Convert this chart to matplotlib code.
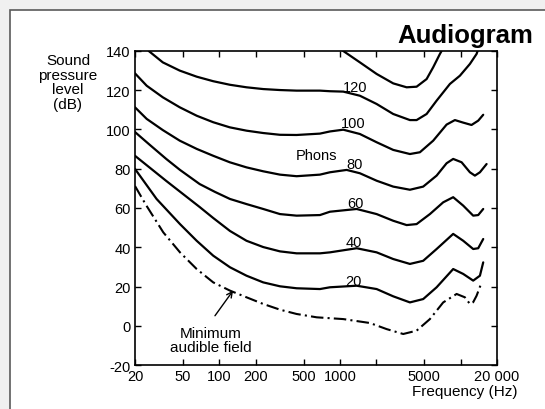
import matplotlib
matplotlib.use("Agg")
import matplotlib.pyplot as plt
from matplotlib.patches import Rectangle
from matplotlib.ticker import FixedLocator, FixedFormatter, NullLocator

plt.rcParams["font.family"] = ["Liberation Sans", "DejaVu Sans"]
plt.rcParams["axes.unicode_minus"] = False

# equal loudness contours (Hz, dB SPL)
p140_f = [1064, 1462, 2012, 2760, 3565, 4314, 5222, 5920, 6730, 6950]
p140_db = [140, 134.2, 128.3, 123.5, 121.5, 121.8, 125.7, 131.7, 138.5, 140]

p120_f = [26, 34, 47, 65, 89, 122, 168, 231, 318, 437, 682, 825, 1064, 1462,
          2012, 2760, 3797, 4314, 5222, 6320, 8144, 9856, 11930, 13550, 13810]
p120_db = [140, 134.2, 130, 126.9, 124.6, 122.8, 121.5, 120.6, 120.1, 119.8,
           119.8, 119.5, 119.3, 117.2, 113, 107.9, 104.8, 104.8, 107.9, 114.7,
           123.2, 127.4, 133.4, 138.5, 140]

p100_f = [20, 25, 34, 47, 65, 89, 122, 168, 231, 318, 437, 682, 825, 1064, 1462,
          2012, 2760, 3797, 4594, 5920, 7646, 8960, 10500, 12300, 13980, 15380]
p100_db = [128.6, 122.3, 116.4, 111.3, 107, 103.7, 101.1, 99.4, 98.2, 97.3, 97.2,
           97.9, 99, 99.9, 97.7, 93.5, 89.6, 87.5, 88.4, 94.3, 102.5, 104.8,
           103.5, 102.3, 104.5, 107.5]

p80_f = [20, 25, 34, 47, 65, 89, 122, 168, 231, 318, 437, 682, 825, 1135, 1462,
         2012, 2760, 3797, 4892, 6320, 7646, 8670, 10180, 11930, 13120, 14440, 16400]
p80_db = [111.3, 105.4, 99.7, 94.3, 90.1, 86.6, 83.3, 80.7, 78.7, 77, 76.2, 77,
          78.2, 79.4, 77.7, 73.9, 70.9, 69.3, 70.9, 76.5, 82.8, 85, 83.3, 78.2,
          76.5, 78.2, 82.4]

p60_f = [20, 26.6, 36.3, 47.2, 68.7, 92, 122.5, 168, 231, 318, 437, 682, 825,
         1374, 2012, 2760, 3565, 4314, 5560, 7168, 8670, 10500, 12700, 13980, 15380]
p60_db = [98.7, 92.1, 85, 79.4, 72.2, 68.2, 64.6, 62, 59.5, 56.9, 56.1, 56.4, 58.1,
          59.5, 56.9, 53.5, 51.3, 51.8, 56.9, 62.9, 65.5, 61.2, 56.1, 56.4, 59.5]

p40_f = [20, 36.3, 68.7, 89, 122.5, 168, 231, 318, 437, 682, 825, 1374, 2012,
         2760, 3797, 4892, 6320, 8670, 10500, 12700, 13980, 15380]
p40_db = [86.6, 73.8, 60.5, 54.9, 48.3, 43.3, 40.1, 37.9, 36.9, 36.9, 37.4, 39.5,
          37.4, 34, 31.5, 33.1, 39.1, 46.8, 43.3, 39.1, 39.5, 44.2]

p20_f = [20, 30.2, 47.2, 64.9, 89, 122.5, 168, 231, 318, 437, 682, 825, 1374,
         2012, 2760, 3797, 4892, 6320, 8670, 10500, 12700, 14440, 15380]
p20_db = [79.9, 64.6, 51.8, 43.3, 35.7, 29.8, 25.5, 22.1, 20.1, 19.1, 18.7, 19.6,
          20.4, 18.7, 15, 11.9, 13.6, 19.6, 28.9, 26.4, 23, 25.5, 32.3]

maf_f = [20, 24.7, 34.3, 47.2, 64.9, 89, 122.5, 168, 231, 318, 437, 641, 1064,
         1770, 2434, 3342, 4314, 5560, 7168, 9256, 10840, 11930, 12700, 13550, 14910]
maf_db = [71.2, 61.5, 47.6, 37.4, 28.9, 22.1, 17.9, 14.5, 11.1, 8.2, 6, 4.3, 3.4,
          1.4, -1.7, -4.2, -2.5, 3.4, 11.9, 16.2, 14.5, 11.1, 12, 15.3, 22.1]

contours = [(p140_f, p140_db), (p120_f, p120_db), (p100_f, p100_db),
            (p80_f, p80_db), (p60_f, p60_db), (p40_f, p40_db), (p20_f, p20_db)]

# labels sitting on the curves
phon_labels = ["120", "100", "80", "60", "40", "20"]
label_f = [1330, 1292, 1330, 1350, 1292, 1292]
label_db = [121.7, 103.3, 82.4, 62.5, 42.7, 22.8]

x_ticks = [20, 50, 100, 200, 500, 1000, 2000, 5000, 10000, 20000]
x_ticklabels = ["20", "50", "100", "200", "500", "1000", "", "5000", "", "20 000"]
y_ticks = [-20, 0, 20, 40, 60, 80, 100, 120, 140]

fig = plt.figure(figsize=(5.45, 4.10), dpi=100)
fig.patch.set_facecolor("#f0f0f0")
fig.add_artist(Rectangle((10 / 545, -0.05), 1.0, 1.05 - 11 / 410,
                         transform=fig.transFigure, facecolor="white",
                         edgecolor="#5a5a5a", linewidth=1.2, zorder=0))

ax = fig.add_axes([0.2477, 0.1073, 0.6642, 0.7659])
ax.set_facecolor("white")

for f, db in contours:
    ax.plot(f, db, color="black", lw=1.6, solid_capstyle="round",
            solid_joinstyle="round")
ax.plot(maf_f, maf_db, color="black", lw=1.5, linestyle=(0, (6, 2, 1, 2)),
        dash_joinstyle="round")

for lab, f, db in zip(phon_labels, label_f, label_db):
    ax.text(f, db, lab, fontsize=10.5, ha="center", va="center")
ax.text(644, 87, "Phons", fontsize=10.5, ha="center", va="center")

ax.text(85, -7.3, "Minimum\naudible field", fontsize=11, ha="center",
        va="center", linespacing=1.0)
ax.annotate("", xy=(130, 17.9), xytext=(92, 5.1),
            arrowprops=dict(arrowstyle="->", color="black", lw=1.0,
                            shrinkA=0, shrinkB=0))

ax.set_xscale("log")
ax.set_xlim(20, 20000)
ax.set_ylim(-20, 140)
ax.xaxis.set_major_locator(FixedLocator(x_ticks))
ax.xaxis.set_major_formatter(FixedFormatter(x_ticklabels))
ax.xaxis.set_minor_locator(NullLocator())
ax.set_yticks(y_ticks)
ax.tick_params(direction="in", length=4.5, width=1.0, top=True, right=True,
               labelsize=10.5, pad=3)
for s in ax.spines.values():
    s.set_linewidth(1.2)

fig.text(68 / 545, 1 - 83 / 410, "Sound\npressure\nlevel\n(dB)", fontsize=11,
         ha="center", va="center", linespacing=1.05)
fig.text(517 / 545, 1 - 392 / 410, "Frequency (Hz)", fontsize=11,
         ha="right", va="center")
fig.text(0.978, 1 - 43 / 410, "Audiogram", fontsize=18.5, weight="bold",
         ha="right", va="baseline")

fig.savefig("out.png", dpi=100)
